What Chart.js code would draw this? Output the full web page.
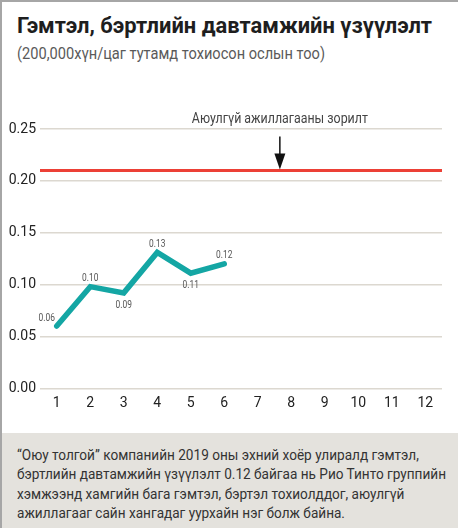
<!DOCTYPE html>
<html lang="mn">
<head>
<meta charset="UTF-8">
<title>Гэмтэл, бэртлийн давтамжийн үзүүлэлт</title>
<script src="https://cdn.jsdelivr.net/npm/chart.js"></script>
<style>
    body {
        margin: 0;
        width: 458px;
        height: 528px;
        background: #fff;
        overflow: hidden;
        position: relative;
        font-family: Roboto, "DejaVu Sans Condensed", sans-serif;
    }
    .edge-top { position: absolute; left: 0; top: 0; width: 458px; height: 2px; background: #a6a6a6; }
    .edge-left { position: absolute; left: 0; top: 0; width: 2px; height: 528px; background: #a6a6a6; }
    .fit { display: inline-block; transform-origin: 0 0; white-space: nowrap; }
    h1 {
        position: absolute;
        left: 17px;
        top: 14.8px;
        margin: 0;
        font-size: 22px;
        line-height: 22px;
        font-weight: bold;
        color: #1e1e1e;
    }
    .sub {
        position: absolute;
        left: 17px;
        top: 45px;
        margin: 0;
        font-size: 17px;
        line-height: 17px;
        font-weight: 400;
        color: #5a5a5a;
    }
    .chart-box {
        position: absolute;
        left: 0;
        top: 100px;
        width: 458px;
        height: 330px;
    }
    .note {
        position: absolute;
        left: 2px;
        top: 433px;
        width: 456px;
        height: 95px;
        background: #e4e2dd;
    }
    .note p {
        position: absolute;
        left: 15px;
        top: 12.5px;
        margin: 0;
        font-size: 14px;
        line-height: 19.5px;
        color: #333;
    }
</style>
</head>
<body>
    <div class="edge-top"></div>
    <div class="edge-left"></div>
    <h1 class="fit" data-w="415">Гэмтэл, бэртлийн давтамжийн үзүүлэлт</h1>
    <p class="sub fit" data-w="308">(200,000хүн/цаг тутамд тохиосон ослын тоо)</p>

    <div class="chart-box">
        <canvas id="chart" width="458" height="330"></canvas>
    </div>

    <div class="note">
        <p class="fit" data-w="429">“Оюу толгой” компанийн 2019 оны эхний хоёр улиралд гэмтэл,<br>
        бэртлийн давтамжийн үзүүлэлт 0.12 байгаа нь Рио Тинто группийн<br>
        хэмжээнд хамгийн бага гэмтэл, бэртэл тохиолддог, аюулгүй<br>
        ажиллагааг сайн хангадаг уурхайн нэг болж байна.</p>
    </div>

<script>
    // data
    const months = ['1', '2', '3', '4', '5', '6', '7', '8', '9', '10', '11', '12'];
    const rate = [0.06, 0.098, 0.092, 0.131, 0.111, 0.12];
    const rateLabels = ['0.06', '0.10', '0.09', '0.13', '0.11', '0.12'];
    const yTicks = [0, 0.05, 0.10, 0.15, 0.20, 0.25];
    const target = 0.21;
    const targetText = 'Аюулгүй ажиллагааны зорилт';

    const FONT = 'Roboto, "DejaVu Sans Condensed", sans-serif';

    // текстийг өргөнд нь шахах
    document.querySelectorAll('.fit').forEach(el => {
        const w = el.getBoundingClientRect().width;
        el.style.transform = 'scaleX(' + (el.dataset.w / w) + ')';
    });

    function narrowText(ctx, text, x, y, sx) {
        ctx.save();
        ctx.translate(x, y);
        ctx.scale(sx, 1);
        ctx.fillText(text, 0, 0);
        ctx.restore();
    }

    // шошго, зорилтын шугам, сум
    const overlay = {
        id: 'overlay',
        beforeDatasetsDraw(chart) {
            const { ctx, chartArea: a, scales: { y } } = chart;
            const yy = y.getPixelForValue(target);
            ctx.save();
            ctx.strokeStyle = '#ec4036';
            ctx.lineWidth = 3;
            ctx.beginPath();
            ctx.moveTo(a.left, yy);
            ctx.lineTo(a.right, yy);
            ctx.stroke();
            ctx.restore();
        },
        afterDatasetsDraw(chart, args, opts) {
            const { ctx, scales: { x, y } } = chart;
            const pts = chart.getDatasetMeta(0).data;
            ctx.save();
            ctx.font = '10.5px ' + FONT;
            ctx.fillStyle = '#555';
            ctx.textAlign = 'center';
            ctx.textBaseline = 'middle';
            pts.forEach((p, i) => {
                const place = opts.place[i];
                let dx = 0, dy = -8;
                if (place === 'left') { dx = -10; dy = -8; }
                if (place === 'below') { dy = 12; }
                narrowText(ctx, rateLabels[i], p.x + dx, p.y + dy, 0.8);
            });

            // сум
            const ax = x.getPixelForValue(opts.arrowAt);
            const tip = y.getPixelForValue(target) - 1;
            ctx.strokeStyle = '#111';
            ctx.fillStyle = '#111';
            ctx.lineWidth = 1.5;
            ctx.beginPath();
            ctx.moveTo(ax, tip - 33);
            ctx.lineTo(ax, tip - 12);
            ctx.stroke();
            ctx.beginPath();
            ctx.moveTo(ax - 5.5, tip - 16);
            ctx.lineTo(ax + 5.5, tip - 16);
            ctx.lineTo(ax, tip);
            ctx.closePath();
            ctx.fill();

            ctx.font = '14px ' + FONT;
            ctx.fillStyle = '#444';
            ctx.textBaseline = 'alphabetic';
            const sx = 176 / ctx.measureText(targetText).width;
            narrowText(ctx, targetText, ax, tip - 46, sx);
            ctx.restore();
        }
    };

    new Chart(document.getElementById('chart'), {
        type: 'line',
        data: {
            labels: months,
            datasets: [{
                data: rate,
                borderColor: '#14a6a4',
                borderWidth: 5.5,
                borderCapStyle: 'round',
                borderJoinStyle: 'miter',
                pointRadius: 0,
                tension: 0
            }]
        },
        options: {
            responsive: false,
            animation: false,
            layout: { padding: { top: 29, right: 16, left: 0, bottom: 0 } },
            plugins: {
                legend: { display: false },
                tooltip: { enabled: false },
                overlay: { place: ['left', 'above', 'below', 'above', 'below', 'above'], arrowAt: 6.66 }
            },
            scales: {
                x: {
                    offset: true,
                    grid: { display: false, drawTicks: false },
                    border: { display: false },
                    ticks: { color: '#222', padding: 7, font: { family: FONT, size: 14 }, maxRotation: 0 },
                    afterFit(s) { s.height = 41.7; }
                },
                y: {
                    min: 0,
                    max: 0.25,
                    afterBuildTicks(s) { s.ticks = yTicks.map(v => ({ value: v })); },
                    grid: { color: '#dcd8d0', lineWidth: 1.5, drawTicks: false },
                    border: { display: false },
                    ticks: {
                        color: '#222',
                        padding: 4,
                        font: { family: FONT, size: 14 },
                        callback: v => v.toFixed(2)
                    },
                    afterFit(s) { s.width = 40; }
                }
            }
        },
        plugins: [overlay]
    });
</script>
</body>
</html>
